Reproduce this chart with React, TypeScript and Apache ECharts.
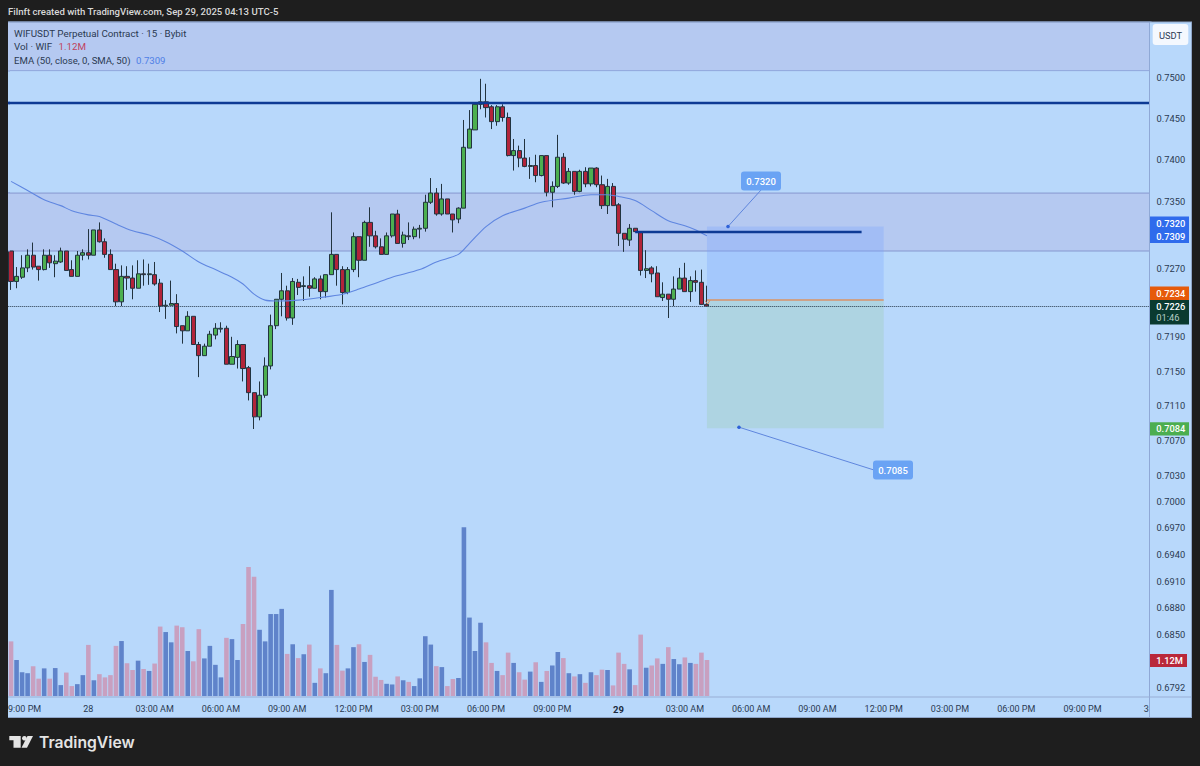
import React, { useEffect, useRef } from "react";
import * as echarts from "echarts";

const tickEvery = 12;
const firstTick = 2;
const timeTicks = ["09:00 PM","28","03:00 AM","06:00 AM","09:00 AM","12:00 PM","03:00 PM","06:00 PM","09:00 PM","29","03:00 AM","06:00 AM","09:00 AM","12:00 PM","03:00 PM","06:00 PM","09:00 PM","30"];
const priceTicks = [0.75,0.745,0.74,0.735,0.727,0.719,0.715,0.711,0.707,0.703,0.70,0.697,0.694,0.691,0.688,0.685,0.6792];

const opens = [.7291,.7255,.7260,.7271,.7286,.7273,.7269,.7286,.7276,.7278,.7291,.7269,.7261,.7286,.7289,.7286,.7316,.7302,.7287,.7269,.7231,.7261,.7259,.7247,.7264,.7263,.7263,.7253,.7226,.7227,.7229,.7203,.7197,.7214,.7181,.7168,.7179,.7192,.7199,.7200,.7158,.7166,.7181,.7154,.7125,.7097,.7122,.7156,.7203,.7234,.7244,.7212,.7254,.7249,.7250,.7247,.7258,.7243,.7263,.7287,.7269,.7242,.7269,.7308,.7280,.7325,.7309,.7296,.7287,.7309,.7335,.7300,.7309,.7308,.7317,.7318,.7349,.7360,.7335,.7353,.7335,.7329,.7342,.7414,.7436,.7467,.7470,.7464,.7446,.7464,.7451,.7405,.7411,.7402,.7392,.7393,.7381,.7405,.7361,.7368,.7403,.7372,.7386,.7362,.7386,.7371,.7390,.7370,.7345,.7368,.7346,.7312,.7304,.7318,.7313,.7268,.7271,.7265,.7236,.7240,.7234,.7246,.7259,.7243,.7256,.7254,.7228];
const closes = [.7255,.7261,.7271,.7286,.7272,.7269,.7286,.7277,.7279,.7291,.7268,.7261,.7286,.7289,.7286,.7316,.7302,.7287,.7269,.7231,.7261,.7259,.7247,.7264,.7263,.7264,.7252,.7226,.7227,.7229,.7202,.7197,.7214,.7181,.7168,.7179,.7193,.7200,.7200,.7158,.7167,.7181,.7153,.7125,.7097,.7122,.7156,.7203,.7234,.7244,.7212,.7255,.7248,.7250,.7247,.7258,.7243,.7263,.7287,.7269,.7242,.7269,.7308,.7280,.7325,.7309,.7296,.7287,.7309,.7335,.7300,.7310,.7308,.7317,.7318,.7349,.7360,.7335,.7353,.7335,.7328,.7342,.7415,.7437,.7467,.7470,.7463,.7446,.7464,.7451,.7405,.7411,.7402,.7392,.7393,.7381,.7405,.7361,.7368,.7403,.7372,.7386,.7362,.7386,.7371,.7390,.7370,.7345,.7368,.7345,.7312,.7305,.7318,.7314,.7268,.7270,.7264,.7237,.7240,.7234,.7246,.7259,.7243,.7256,.7254,.7228,.7226];
const lows = [.7245,.7247,.7258,.7266,.7269,.7256,.7268,.7271,.7260,.7277,.7268,.7261,.7261,.7280,.7281,.7286,.7301,.7283,.7269,.7226,.7226,.7245,.7234,.7247,.7250,.7251,.7250,.7219,.7211,.7227,.7194,.7182,.7197,.7181,.7143,.7168,.7179,.7187,.7195,.7158,.7158,.7153,.7138,.7116,.7083,.7093,.7119,.7152,.7199,.7214,.7209,.7204,.7239,.7232,.7237,.7247,.7234,.7236,.7263,.7250,.7228,.7240,.7266,.7260,.7280,.7296,.7294,.7287,.7287,.7307,.7300,.7295,.7304,.7305,.7306,.7314,.7347,.7333,.7333,.7335,.7313,.7324,.7342,.7414,.7436,.7461,.7451,.7437,.7441,.7446,.7404,.7387,.7391,.7391,.7377,.7373,.7380,.7356,.7343,.7366,.7371,.7370,.7358,.7361,.7367,.7368,.7367,.7341,.7335,.7345,.7297,.7290,.7297,.7314,.7262,.7259,.7254,.7237,.7232,.7212,.7226,.7246,.7243,.7231,.7243,.7228,.7226];
const highs = [.7291,.7272,.7286,.7293,.7301,.7273,.7293,.7293,.7286,.7295,.7291,.7280,.7291,.7293,.7317,.7316,.7325,.7306,.7293,.7276,.7274,.7273,.7274,.7280,.7281,.7276,.7278,.7258,.7233,.7256,.7240,.7203,.7220,.7214,.7184,.7182,.7197,.7206,.7207,.7203,.7190,.7186,.7181,.7156,.7125,.7138,.7166,.7216,.7234,.7265,.7250,.7259,.7258,.7261,.7273,.7260,.7262,.7263,.7337,.7287,.7273,.7272,.7313,.7308,.7327,.7343,.7315,.7306,.7313,.7335,.7340,.7314,.7325,.7320,.7322,.7358,.7378,.7366,.7371,.7353,.7335,.7343,.7448,.7460,.7467,.7498,.7492,.7466,.7466,.7467,.7457,.7425,.7417,.7425,.7403,.7406,.7405,.7405,.7374,.7430,.7408,.7390,.7386,.7388,.7391,.7390,.7391,.7381,.7377,.7372,.7348,.7312,.7323,.7318,.7313,.7292,.7273,.7273,.7254,.7240,.7261,.7271,.7277,.7261,.7268,.7269,.7250];
const volumes = [1.70,1.12,.74,.71,.93,.54,.86,.54,.87,.34,.73,.31,.37,.65,1.59,.49,.68,.58,.65,1.56,1.71,1.02,.81,1.10,.84,.78,1.01,2.16,1.99,1.67,2.19,2.14,1.40,1.08,2.08,1.17,1.56,.97,.58,1.81,1.77,1.12,2.24,4.01,3.71,2.06,1.70,2.55,2.55,2.71,1.31,1.61,1.18,1.30,1.60,.41,.86,.71,3.30,1.59,.79,.86,1.52,1.61,1.06,1.28,.60,.50,.38,.36,.61,.49,.44,.31,.55,1.86,1.60,.93,.90,.31,.53,.56,5.25,2.44,1.40,2.28,1.67,1.03,.78,.65,1.35,1.03,.74,.51,.76,1.05,.44,.78,.95,1.37,1.18,.71,.61,.68,.41,.74,.65,.82,.81,.33,1.35,1.00,.83,.34,1.91,.88,.95,1.17,1.00,1.52,1.15,.99,1.20,1.03,1.00,1.35,1.12];
const emaBars = [0,3,6,9,11,14,16,19,22,25,28,31,34,37,40,42,44,46,48,52,56,60,63,66,69,74,77,81,83,86,89,93,96,101,105,108,110,113,116,119,122,124,126];
const emaValues = [.7374,.7363,.7352,.7345,.7339,.7334,.7332,.7323,.7315,.7310,.7302,.7291,.7278,.7269,.7260,.7252,.7240,.7233,.7232,.7233,.7236,.7240,.7246,.7253,.7260,.7269,.7278,.7287,.7300,.7320,.7333,.7342,.7349,.7354,.7358,.7358,.7356,.7351,.7339,.7327,.7321,.7316,.7309];

const axisTop = 0.75676;
const axisBottom = 0.6781;
const zoneUpper = [0.7508, axisTop];
const zoneLower = [0.7291, 0.7360];
const resistance = 0.7469;
const entrySegment = 0.7314;
const lastPrice = 0.7226;
const targetTop = 0.7320;
const targetEntry = 0.7234;
const targetStop = 0.7084;
const boxBars = [126, 158];
const entryBars = [113, 154];
const barCount = 207;
const volumeAxis = [-0.03, 20.96];

const UI = "Roboto, 'Liberation Sans', sans-serif";
const ink = "#2b3a52";

function txt(x: number, y: number, text: string, fontSize: number, fill: string, extra: any = {}, z = 20) {
  return { type: "text", x, y, z, silent: true, style: { text, fontSize, fill, fontFamily: UI, textVerticalAlign: "middle", verticalAlign: "middle", ...extra } };
}
function box(x: number, y: number, width: number, height: number, fill: string, z = 20, extra: any = {}, r = 0) {
  return { type: "rect", z, silent: true, shape: { x, y, width, height, r }, style: { fill, ...extra } };
}

export default function App() {
  const ref = useRef<HTMLDivElement>(null);
  useEffect(() => {
    document.body.style.margin = "0";
    const chart = echarts.init(ref.current!, undefined, { renderer: "svg" });
    const categories = Array.from({ length: barCount }, (_, i) => {
      const k = (i - firstTick) / tickEvery;
      return Number.isInteger(k) && timeTicks[k] ? timeTicks[k] : "b" + i;
    });
    const candles = opens.map((o, i) => [o, closes[i], lows[i], highs[i]]);
    const volBars = volumes.map((v, i) => ({
      value: v,
      itemStyle: { color: closes[i] >= opens[i] ? "#5f83ca" : "#c8a0c0" },
    }));
    const ema = emaBars.map((b, i) => [b, emaValues[i]]);

    chart.setOption({
      animation: false,
      backgroundColor: "#1e1e1e",
      grid: { left: 6.85, top: 22, width: 1144.7, height: 675, containLabel: false },
      xAxis: {
        type: "category",
        z: 1,
        data: categories,
        boundaryGap: true,
        axisLine: { show: false },
        axisTick: { show: false },
        splitLine: { show: false },
        axisLabel: {
          interval: (i: number) => (i - firstTick) % tickEvery === 0,
          hideOverlap: false,
          fontFamily: UI,
          fontSize: 9,
          color: ink,
          margin: 7,
          formatter: (v: string) => (v === "29" ? "{b|29}" : v.startsWith("b") ? "" : v),
          rich: { b: { fontWeight: "bold", fontSize: 9.5, color: "#1c2a3e", fontFamily: UI } },
        },
      },
      yAxis: [
        {
          type: "log",
          z: 10,
          position: "right",
          min: axisBottom,
          max: axisTop,
          axisLine: { show: false },
          axisTick: { show: false },
          splitLine: { show: false },
          axisLabel: {
            customValues: priceTicks,
            align: "left",
            margin: 5,
            fontFamily: UI,
            fontSize: 9.3,
            color: ink,
            formatter: (v: number) => Number(v).toFixed(4),
          },
        },
        { type: "value", show: false, position: "left", min: volumeAxis[0], max: volumeAxis[1], splitLine: { show: false } },
      ],
      series: [
        {
          type: "bar",
          yAxisIndex: 1,
          z: 2,
          barWidth: 4.6,
          silent: true,
          data: volBars,
        },
        {
          type: "candlestick",
          z: 3,
          barWidth: 4.6,
          silent: true,
          data: candles,
          itemStyle: { color: "#4caf50", color0: "#b2243a", borderColor: "#22333f", borderColor0: "#22333f", borderWidth: 1 },
        },
        {
          type: "line",
          z: 4,
          data: ema,
          smooth: 0.3,
          showSymbol: false,
          silent: true,
          lineStyle: { color: "#5f86e0", width: 1.1 },
          markArea: {
            silent: true,
            z: 1,
            data: [
              [{ yAxis: zoneUpper[0], itemStyle: { color: "#b5c9f1", borderColor: "#8fa6dc", borderWidth: 1 } }, { yAxis: zoneUpper[1] }],
              [{ yAxis: zoneLower[0], itemStyle: { color: "#b5c9f1", borderColor: "#8597cf", borderWidth: 1 } }, { yAxis: zoneLower[1] }],
              [{ xAxis: boxBars[0], yAxis: targetEntry, itemStyle: { color: "rgba(120,163,254,0.3)" } }, { xAxis: boxBars[1], yAxis: targetTop }],
              [{ xAxis: boxBars[0], yAxis: targetStop, itemStyle: { color: "rgba(144,200,151,0.25)" } }, { xAxis: boxBars[1], yAxis: targetEntry }],
            ],
          },
          markLine: {
            silent: true,
            symbol: "none",
            precision: 4,
            label: { show: false },
            data: [
              { yAxis: resistance, lineStyle: { color: "#0d3a94", width: 2.4, type: "solid" } },
              { yAxis: lastPrice, lineStyle: { color: "#26384a", width: 1, type: "dotted" } },
              [{ xAxis: boxBars[0], yAxis: targetEntry, lineStyle: { color: "#d8926a", width: 1.6, type: "solid" } }, { xAxis: boxBars[1], yAxis: targetEntry }],
              [{ xAxis: entryBars[0], yAxis: entrySegment, lineStyle: { color: "#0d3a94", width: 2.4, type: "solid" } }, { xAxis: entryBars[1], yAxis: entrySegment }],
            ],
          },
        },
      ],
      graphic: {
        elements: [
          box(8, 22, 1184, 696, "#b8d8fb", 0),
          // the zones and lines stop at the first bar's centre: carry them to the pane's left edge
          box(8, 22, 2, 49, "#b5c9f1", 5),
          box(8, 70.6, 2, 1, "#8fa6dc", 5),
          box(8, 193, 2, 58, "#b5c9f1", 5),
          box(8, 192.6, 2, 1, "#8597cf", 5),
          box(8, 250.6, 2, 1, "#8597cf", 5),
          box(8, 101.8, 2, 2.4, "#0d3a94", 5),
          box(0, 0, 8, 766, "#1e1e1e", 6),
          box(1149.6, 22, 42.4, 695, "#b8d8fb", 6),
          box(1149, 22, 1, 696, "#8fa8d6", 7),
          box(8, 696.6, 1184, 1, "#97aed6", 7),
          box(8, 717, 1184, 1, "#8fa5c8", 7),
          box(1191, 22, 1, 696, "#8fa5c8", 7),
          box(8, 21.5, 1184, 1, "#8fa5c8", 7),

          txt(8, 11.5, "Filnft created with TradingView.com, Sep 29, 2025 04:13 UTC-5", 9.6, "#d9d9d9", { fontWeight: 500 }),
          txt(14, 33, "WIFUSDT Perpetual Contract · 15 · Bybit", 9.8, ink),
          txt(14, 46.5, "Vol · WIF", 9.8, ink),
          txt(58.5, 46.5, "1.12M", 9.8, "#c0445f"),
          txt(14, 60, "EMA (50, close, 0, SMA, 50)", 9.6, ink),
          txt(136, 60, "0.7309", 9.6, "#4f7fe6"),

          box(1152.7, 24, 35.6, 21, "#f4f8fe", 20, {}, 3),
          txt(1170.5, 35, "USDT", 9.3, ink, { align: "center", textAlign: "center" }),

          box(1150, 216.5, 39, 26.5, "#2f6bec", 20),
          txt(1156.3, 223.3, "0.7320", 9.3, "#ffffff", { fontWeight: 500 }),
          txt(1156.3, 236.7, "0.7309", 9.3, "#ffffff", { fontWeight: 500 }),
          box(1150, 286.5, 39, 13.5, "#e65a0a", 20),
          txt(1156.3, 293.3, "0.7234", 9.3, "#ffffff", { fontWeight: 500 }),
          box(1150, 300, 39, 24.5, "#0a3a30", 20),
          txt(1156.3, 306.5, "0.7226", 9.3, "#ffffff", { fontWeight: 500 }),
          txt(1156.3, 317.7, "01:46", 9.3, "#b7cdc6"),
          box(1150, 422.3, 39, 13.2, "#4cae50", 20),
          txt(1156.3, 428.7, "0.7084", 9.3, "#ffffff", { fontWeight: 500 }),
          box(1150, 654, 37, 13, "#b9283a", 20),
          txt(1156.3, 660.5, "1.12M", 9.3, "#ffffff", { fontWeight: 500 }),

          { type: "line", z: 15, silent: true, shape: { x1: 728, y1: 226.5, x2: 761, y2: 190 }, style: { stroke: "#5f86dd", lineWidth: 1 } },
          { type: "circle", z: 15, silent: true, shape: { cx: 728, cy: 226.5, r: 1.8 }, style: { fill: "#2f62d8" } },
          box(741, 171.5, 40, 19, "#6aa3f4", 15, {}, 3),
          txt(761, 181, "0.7320", 9.5, "#ffffff", { align: "center", textAlign: "center", fontWeight: 500 }, 16),
          { type: "line", z: 15, silent: true, shape: { x1: 739, y1: 427.2, x2: 874, y2: 470 }, style: { stroke: "#5f86dd", lineWidth: 1 } },
          { type: "circle", z: 15, silent: true, shape: { cx: 739, cy: 427.2, r: 1.8 }, style: { fill: "#2f62d8" } },
          box(873, 460.5, 40, 19, "#6aa3f4", 15, {}, 3),
          txt(893, 470, "0.7085", 9.5, "#ffffff", { align: "center", textAlign: "center", fontWeight: 500 }, 16),

          { type: "polyline", z: 15, silent: true, shape: { points: [[705, 300.5], [707.5, 304], [710, 300.5]] }, style: { stroke: "#e0895a", lineWidth: 1, fill: "none" } },

          { type: "polygon", z: 20, silent: true, shape: { points: [[9.3, 736], [20.7, 736], [20.7, 747.7], [13.5, 747.7], [13.5, 740.2], [9.3, 740.2]] }, style: { fill: "#e4e4e4" } },
          { type: "circle", z: 20, silent: true, shape: { cx: 24.4, cy: 738.2, r: 2.3 }, style: { fill: "#e4e4e4" } },
          { type: "polygon", z: 20, silent: true, shape: { points: [[27.5, 736], [33, 736], [27, 747.7], [21.5, 747.7]] }, style: { fill: "#e4e4e4" } },
          txt(39, 742, "TradingView", 15.7, "#e4e4e4", { fontFamily: "Inter, Roboto, sans-serif", fontWeight: 600 }),
        ],
      },
    });
    return () => chart.dispose();
  }, []);
  return <div ref={ref} style={{ position: "absolute", left: 0, top: 0, width: 1200, height: 766 }} />;
}
